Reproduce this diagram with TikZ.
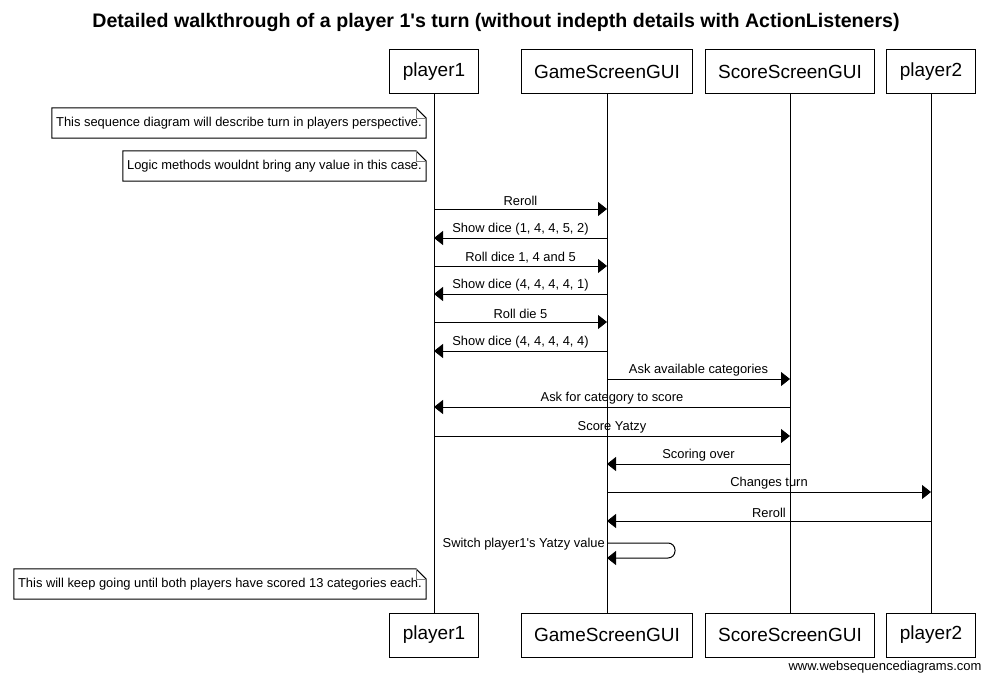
\documentclass[tikz,border=0pt]{standalone}
\usepackage{fontspec}
\setmainfont{Liberation Sans}
\usetikzlibrary{arrows.meta}
\tikzset{
  actor/.style={draw, line width=1pt, minimum height=44pt, inner xsep=13pt, font=\fontsize{19}{22}\selectfont},
  note/.style={minimum height=30pt, inner xsep=4pt, anchor=east, font=\fontsize{12.9}{15}\selectfont},
  msg/.style={line width=1pt, -{Triangle[length=9pt,width=14pt]}},
  lbl/.style={midway, above, inner sep=2.5pt, font=\fontsize{12.9}{15}\selectfont}
}
\begin{document}
\begin{tikzpicture}[x=1pt,y=-1pt]
\useasboundingbox (0,0) rectangle (990,682);
\node (title) at (496,22) {\bfseries\fontsize{19.6}{23}\selectfont Detailed walkthrough of a player 1\textquotesingle s turn (without indepth details with ActionListeners)};
\node[actor] (p1) at (434,72) {player1};
\node[actor] (gs) at (607,72) {GameScreenGUI};
\node[actor] (ss) at (790,72) {ScoreScreenGUI};
\node[actor] (p2) at (931,72) {player2};
\node[actor] (p1-b) at (434,635) {player1};
\node[actor] (gs-b) at (607,635) {GameScreenGUI};
\node[actor] (ss-b) at (790,635) {ScoreScreenGUI};
\node[actor] (p2-b) at (931,635) {player2};
\foreach \a in {p1,gs,ss,p2}
  \draw[line width=1pt] (\a) -- (\a-b);
\node[note] (n1) at (426,123) {This sequence diagram will describe turn in players perspective.};
\node[note] (n2) at (426,166) {Logic methods wouldnt bring any value in this case.};
\node[note] (n3) at (426,584) {This will keep going until both players have scored 13 categories each.};
\foreach \n in {n1,n2,n3} {
  \draw[line width=1pt] (\n.north west) -- ([xshift=-10pt]\n.north east) -- ([yshift=-10pt]\n.north east) -- (\n.south east) -- (\n.south west) -- cycle;
  \draw[gray] ([xshift=-10pt]\n.north east) |- ([yshift=-10pt]\n.north east);
}
\foreach \y/\s/\t/\txt in {209/p1/gs/Reroll,
    238/gs/p1/{Show dice (1, 4, 4, 5, 2)},
    266/p1/gs/{Roll dice 1, 4 and 5},
    294/gs/p1/{Show dice (4, 4, 4, 4, 1)},
    322/p1/gs/Roll die 5,
    351/gs/p1/{Show dice (4, 4, 4, 4, 4)},
    379/gs/ss/Ask available categories,
    407/ss/p1/Ask for category to score,
    436/p1/ss/Score Yatzy,
    464/ss/gs/Scoring over,
    492/gs/p2/Changes turn,
    521/p2/gs/Reroll}
  \draw[msg] (\s |- 0,\y) -- (\t |- 0,\y) node[lbl] {\txt};
\draw[msg, rounded corners=7pt] (gs |- 0,543) -- ++(68,0) -- ++(0,15) -- (gs |- 0,558);
\node[anchor=base east, inner sep=1pt, font=\fontsize{12.9}{15}\selectfont] (self) at (606,547) {Switch player1\textquotesingle s Yatzy value};
\node[anchor=east, font=\fontsize{13}{15}\selectfont] (wsd) at (985,667) {www.websequencediagrams.com};
\end{tikzpicture}
\end{document}
